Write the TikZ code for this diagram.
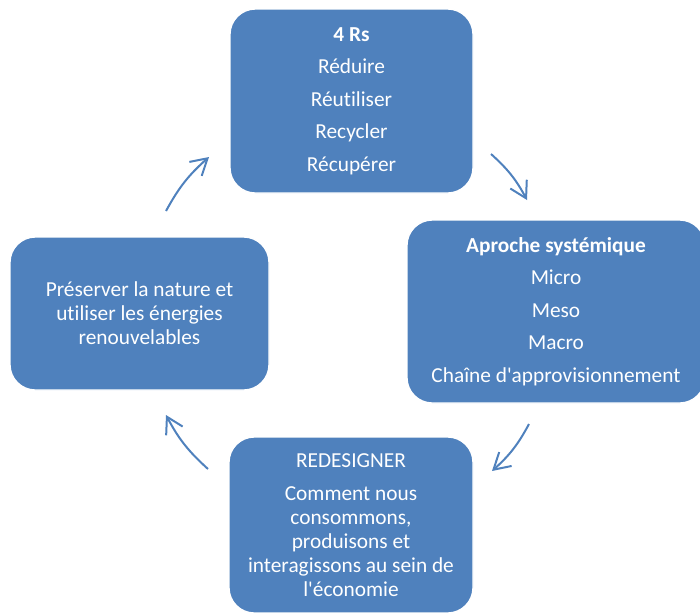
\documentclass[tikz,border=0pt]{standalone}
\usepackage{fontspec}
\setmainfont{Carlito}[Ligatures=NoCommon]
\usepackage{xcolor}
\usetikzlibrary{arrows.meta}
\definecolor{boxblue}{HTML}{4F81BD}

\begin{document}
\begin{tikzpicture}[
  x=0.75pt, y=-0.75pt,
  every node/.style={font=\fontsize{16}{18}\selectfont},
  rbox/.style={rectangle,rounded corners=19pt,fill=boxblue,draw=white,line width=1pt,
    text=white,align=center,inner sep=0pt},
  cycarrow/.style={draw=boxblue,line width=1.5pt,-{Straight Barb[length=12pt,width=14pt]}} % <-- avoin nuolenkärki
]
\useasboundingbox (0,0) rectangle (700,612);

\node[rbox,minimum width=182.25pt,minimum height=138pt] (rs) at (351.5,101)
  {\textbf{4 Rs}\\[6.4pt]Réduire\\[6.4pt]Réutiliser\\[6.4pt]Recycler\\[6.4pt]Récupérer};
\node[rbox,minimum width=223.5pt,minimum height=137.25pt] (sys) at (556,311.5)
  {\textbf{Aproche systémique}\\[6.4pt]Micro\\[6.4pt]Meso\\[6.4pt]Macro\\[6.4pt]Chaîne d\textquotesingle approvisionnement};
\node[rbox,minimum width=183pt,minimum height=132pt] (redes) at (351,525)
  {REDESIGNER\\[6.4pt]Comment nous\\consommons,\\produisons et\\interagissons au sein de\\l\textquotesingle économie};
\node[rbox,minimum width=194.25pt,minimum height=114.75pt] (nat) at (139.5,313.5)
  {Préserver la nature et\\utiliser les énergies\\renouvelables};

\coordinate (a1s) at (166,211); \coordinate (a1e) at (209,157);
\coordinate (a2s) at (491,154); \coordinate (a2e) at (527,200);
\coordinate (a3s) at (529,424); \coordinate (a3e) at (492,471);
\coordinate (a4s) at (208,469); \coordinate (a4e) at (166,415);

\draw[cycarrow] (a1s) to[bend left=10] (a1e);
\draw[cycarrow] (a2s) to[bend left=10] (a2e);
\draw[cycarrow] (a3s) to[bend left=10] (a3e);
\draw[cycarrow] (a4s) to[bend left=10] (a4e);
\end{tikzpicture}
\end{document}
